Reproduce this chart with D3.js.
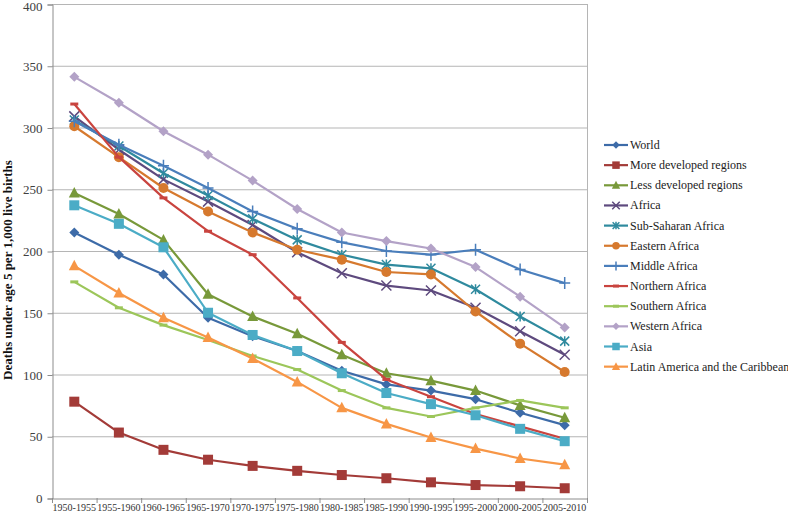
<!DOCTYPE html>
<html><head><meta charset="utf-8">
<script src="https://cdn.jsdelivr.net/npm/d3@7"></script>
<style>body{margin:0;background:#fff}svg{display:block}
svg text{font-family:"Liberation Serif","Times New Roman","DejaVu Serif",serif !important;}</style>
</head><body><svg id="c" width="788" height="512"></svg>
<script>
const periods = ["1950-1955","1955-1960","1960-1965","1965-1970","1970-1975","1975-1980","1980-1985","1985-1990","1990-1995","1995-2000","2000-2005","2005-2010"];
const yTicks = [0,50,100,150,200,250,300,350,400];
const world      = [215,197,181,146,131,119,103,92,87,80,69,59];
const moreDev    = [78,53,39,31,26,22,18.6,16,12.7,10.5,9.5,7.9];
const lessDev    = [247,230,209,165,147,133,116,101,95,87,75,65];
const africa     = [309,282,258,240,221,199,182,172,168,154,135,116];
const subSaharan = [306,285,263,245,226,209,197,189,186,169,147,127];
const eastern    = [301,276,251,232,215,201,193,183,181,151,125,102];
const middle     = [305,286,269,251,232,218,207,200,197,201,185,174];
const northern   = [319,276,243,216,197,162,126,96,82,68,58,48];
const southern   = [175,154,140,128,115,104,87,73,66,73,79,73];
const western    = [341,320,297,278,257,234,215,208,202,187,163,138];
const asia       = [237,222,203,150,132,119,101,85,76,67,56,46];
const latin      = [188,166,146,130,113,94,73,60,49,40,32,27];

const seriesNames = ["World","More developed regions","Less developed regions","Africa","Sub-Saharan Africa","Eastern Africa","Middle Africa","Northern Africa","Southern Africa","Western Africa","Asia","Latin America and the Caribbean"];
const seriesVals = [world,moreDev,lessDev,africa,subSaharan,eastern,middle,northern,southern,western,asia,latin];
const colors = ["#3D6BA8","#A33B38","#78993A","#5E4A7E","#2F8A9E","#D6792E","#4A7EBB","#C9443F","#9CC65A","#B3A2C7","#4BACC6","#F79646"];
const markers = ["diamond","square","triangle","x","star","circle","plus","dash","dash","diamond","square","triangle"];

const FONT = "'Liberation Serif','Times New Roman','DejaVu Serif',serif";
const svg = d3.select("#c");
const L=52,R=587,T=4,B=498;
const x = d3.scaleBand().domain(periods).range([L,R]);
const y = d3.scaleLinear().domain([0,400]).range([B,T]);

// gridlines
svg.append("g").selectAll("line").data(yTicks.filter(d=>d>0)).join("line")
  .attr("x1",L).attr("x2",R).attr("y1",d=>y(d)+0.5).attr("y2",d=>y(d)+0.5)
  .attr("stroke","#B5B5B5").attr("stroke-width",1);
// right border
svg.append("line").attr("x1",R+0.5).attr("x2",R+0.5).attr("y1",T).attr("y2",B).attr("stroke","#B5B5B5");

// y axis
const ya = svg.append("g").attr("transform",`translate(${L+0.5},0.5)`)
  .call(d3.axisLeft(y).tickValues(yTicks).tickSize(5).tickPadding(5));
ya.attr("font-family",FONT);
ya.select(".domain").attr("stroke","#8C8C8C");
ya.selectAll(".tick line").attr("stroke","#8C8C8C");
ya.selectAll("text").style("font-family",FONT).attr("font-size",13).attr("fill","#404040");
ya.selectAll(".tick").filter(d=>d===400).select("text").attr("dy","0.45em");

// x axis
const xa = svg.append("g").attr("transform",`translate(0,${B+0.5})`)
  .call(d3.axisBottom(x).tickSize(0).tickPadding(5));
xa.attr("font-family",FONT);
xa.select(".domain").attr("stroke","#8C8C8C");
xa.selectAll("text").style("font-family",FONT).attr("font-size",10).attr("fill","#333");
svg.append("g").selectAll("line").data(d3.range(periods.length+1)).join("line")
  .attr("x1",i=>L+i*x.step()+0.5).attr("x2",i=>L+i*x.step()+0.5)
  .attr("y1",B).attr("y2",B+5).attr("stroke","#8C8C8C");

// y label
svg.append("text").attr("transform","translate(12,270) rotate(-90)")
  .attr("text-anchor","middle").style("font-family",FONT)
  .attr("font-weight","bold").attr("font-size",13).attr("fill","#111")
  .text("Deaths under age 5 per 1,000 live births");

function drawMarker(g,type,cx,cy,color,s){
  s = s||1;
  if(type==="diamond"){
    g.append("path").attr("d",`M${cx},${cy-5*s}L${cx+5*s},${cy}L${cx},${cy+5*s}L${cx-5*s},${cy}Z`).attr("fill",color);
  } else if(type==="square"){
    g.append("rect").attr("x",cx-5*s).attr("y",cy-5*s).attr("width",10*s).attr("height",10*s).attr("fill",color);
  } else if(type==="triangle"){
    g.append("path").attr("d",`M${cx},${cy-6*s}L${cx+5.5*s},${cy+4.5*s}L${cx-5.5*s},${cy+4.5*s}Z`).attr("fill",color);
  } else if(type==="circle"){
    g.append("circle").attr("cx",cx).attr("cy",cy).attr("r",5*s).attr("fill",color);
  } else if(type==="x"){
    g.append("path").attr("d",`M${cx-5*s},${cy-5*s}L${cx+5*s},${cy+5*s}M${cx-5*s},${cy+5*s}L${cx+5*s},${cy-5*s}`).attr("stroke",color).attr("stroke-width",1.5);
  } else if(type==="star"){
    g.append("path").attr("d",`M${cx-4.5*s},${cy-4.5*s}L${cx+4.5*s},${cy+4.5*s}M${cx-4.5*s},${cy+4.5*s}L${cx+4.5*s},${cy-4.5*s}M${cx},${cy-5*s}L${cx},${cy+5*s}`).attr("stroke",color).attr("stroke-width",1.5);
  } else if(type==="plus"){
    g.append("path").attr("d",`M${cx-5.5*s},${cy}L${cx+5.5*s},${cy}M${cx},${cy-6*s}L${cx},${cy+6*s}`).attr("stroke",color).attr("stroke-width",1.5);
  } else if(type==="dash"){
    g.append("path").attr("d",`M${cx-4*s},${cy}L${cx+4*s},${cy}`).attr("stroke",color).attr("stroke-width",3);
  }
}

const line = d3.line().x((d,i)=>x(periods[i])+x.bandwidth()/2).y(d=>y(d));
seriesVals.forEach((vals,k)=>{
  const g = svg.append("g");
  g.append("path").datum(vals).attr("d",line).attr("fill","none")
    .attr("stroke",colors[k]).attr("stroke-width",2.2).attr("stroke-linejoin","round");
  vals.forEach((v,i)=>drawMarker(g,markers[k],x(periods[i])+x.bandwidth()/2,y(v),colors[k],1));
});

// legend
const lg = svg.append("g");
seriesNames.forEach((n,k)=>{
  const cy = 145 + k*20.15;
  const g = lg.append("g");
  g.append("line").attr("x1",604).attr("x2",628).attr("y1",cy).attr("y2",cy).attr("stroke",colors[k]).attr("stroke-width",2.2);
  drawMarker(g,markers[k],616,cy,colors[k],0.75);
  g.append("text").attr("x",630).attr("y",cy+4).style("font-family",FONT)
    .attr("font-size",12).attr("fill","#222").text(n);
});
</script></body></html>
